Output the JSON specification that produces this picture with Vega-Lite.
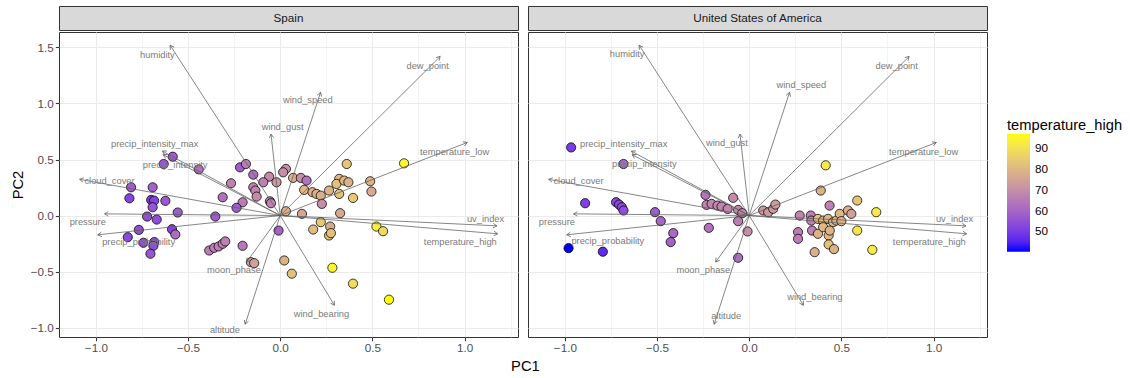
{
  "$schema": "https://vega.github.io/schema/vega-lite/v6.json",
  "padding": {"left": 9, "top": 5, "right": 5, "bottom": 5},
  "autosize": {"type": "pad"},
  "background": "white",
  "title": {"text": "PC1", "orient": "bottom", "anchor": "middle", "frame": "bounds", "fontSize": 14.7, "fontWeight": "normal", "color": "#000000", "font": "Liberation Sans", "offset": 4, "dx": -41},
  "config": {
    "font": "Liberation Sans",
    "view": {"stroke": "#333333", "strokeWidth": 1},
    "axis": {"labelFont": "Liberation Sans", "titleFont": "Liberation Sans"},
    "legend": {"labelFont": "Liberation Sans", "titleFont": "Liberation Sans"},
    "text": {"font": "Liberation Sans"}
  },
  "datasets": {
    "points": [
      {"country":"Spain","PC1":-0.583,"PC2":0.525,"temperature_high":58},
      {"country":"Spain","PC1":-0.632,"PC2":0.460,"temperature_high":57},
      {"country":"Spain","PC1":-0.442,"PC2":0.412,"temperature_high":63},
      {"country":"Spain","PC1":-0.809,"PC2":0.252,"temperature_high":58},
      {"country":"Spain","PC1":-0.692,"PC2":0.252,"temperature_high":59},
      {"country":"Spain","PC1":-0.818,"PC2":0.154,"temperature_high":52},
      {"country":"Spain","PC1":-0.700,"PC2":0.139,"temperature_high":51},
      {"country":"Spain","PC1":-0.684,"PC2":0.133,"temperature_high":52},
      {"country":"Spain","PC1":-0.692,"PC2":0.074,"temperature_high":56},
      {"country":"Spain","PC1":-0.623,"PC2":0.131,"temperature_high":57},
      {"country":"Spain","PC1":-0.556,"PC2":0.027,"temperature_high":58},
      {"country":"Spain","PC1":-0.722,"PC2":-0.009,"temperature_high":55},
      {"country":"Spain","PC1":-0.670,"PC2":-0.036,"temperature_high":54},
      {"country":"Spain","PC1":-0.767,"PC2":-0.128,"temperature_high":55},
      {"country":"Spain","PC1":-0.827,"PC2":-0.193,"temperature_high":53},
      {"country":"Spain","PC1":-0.742,"PC2":-0.243,"temperature_high":54},
      {"country":"Spain","PC1":-0.683,"PC2":-0.237,"temperature_high":53},
      {"country":"Spain","PC1":-0.688,"PC2":-0.270,"temperature_high":54},
      {"country":"Spain","PC1":-0.704,"PC2":-0.341,"temperature_high":56},
      {"country":"Spain","PC1":-0.587,"PC2":-0.122,"temperature_high":52},
      {"country":"Spain","PC1":-0.569,"PC2":-0.169,"temperature_high":62},
      {"country":"Spain","PC1":-0.352,"PC2":-0.009,"temperature_high":58},
      {"country":"Spain","PC1":-0.218,"PC2":0.430,"temperature_high":58},
      {"country":"Spain","PC1":-0.186,"PC2":0.460,"temperature_high":66},
      {"country":"Spain","PC1":-0.146,"PC2":0.365,"temperature_high":62},
      {"country":"Spain","PC1":-0.060,"PC2":0.347,"temperature_high":69},
      {"country":"Spain","PC1":-0.092,"PC2":0.297,"temperature_high":67},
      {"country":"Spain","PC1":-0.020,"PC2":0.297,"temperature_high":72},
      {"country":"Spain","PC1":0.031,"PC2":0.416,"temperature_high":70},
      {"country":"Spain","PC1":0.016,"PC2":0.386,"temperature_high":70},
      {"country":"Spain","PC1":-0.267,"PC2":0.288,"temperature_high":67},
      {"country":"Spain","PC1":-0.146,"PC2":0.252,"temperature_high":68},
      {"country":"Spain","PC1":-0.135,"PC2":0.223,"temperature_high":68},
      {"country":"Spain","PC1":-0.128,"PC2":0.169,"temperature_high":69},
      {"country":"Spain","PC1":-0.056,"PC2":0.127,"temperature_high":68},
      {"country":"Spain","PC1":-0.050,"PC2":0.110,"temperature_high":67},
      {"country":"Spain","PC1":-0.312,"PC2":0.163,"temperature_high":63},
      {"country":"Spain","PC1":-0.204,"PC2":0.118,"temperature_high":66},
      {"country":"Spain","PC1":-0.237,"PC2":0.069,"temperature_high":58},
      {"country":"Spain","PC1":0.031,"PC2":0.038,"temperature_high":79},
      {"country":"Spain","PC1":0.118,"PC2":0.015,"temperature_high":76},
      {"country":"Spain","PC1":-0.009,"PC2":-0.134,"temperature_high":59},
      {"country":"Spain","PC1":-0.385,"PC2":-0.312,"temperature_high":66},
      {"country":"Spain","PC1":-0.358,"PC2":-0.288,"temperature_high":66},
      {"country":"Spain","PC1":-0.334,"PC2":-0.276,"temperature_high":66},
      {"country":"Spain","PC1":-0.312,"PC2":-0.252,"temperature_high":67},
      {"country":"Spain","PC1":-0.298,"PC2":-0.231,"temperature_high":67},
      {"country":"Spain","PC1":-0.204,"PC2":-0.270,"temperature_high":65},
      {"country":"Spain","PC1":-0.159,"PC2":-0.416,"temperature_high":74},
      {"country":"Spain","PC1":-0.141,"PC2":-0.425,"temperature_high":74},
      {"country":"Spain","PC1":0.022,"PC2":-0.401,"temperature_high":79},
      {"country":"Spain","PC1":0.063,"PC2":-0.519,"temperature_high":82},
      {"country":"Spain","PC1":0.070,"PC2":0.336,"temperature_high":78},
      {"country":"Spain","PC1":0.112,"PC2":0.336,"temperature_high":70},
      {"country":"Spain","PC1":0.143,"PC2":0.312,"temperature_high":63},
      {"country":"Spain","PC1":0.130,"PC2":0.229,"temperature_high":80},
      {"country":"Spain","PC1":0.175,"PC2":0.208,"temperature_high":78},
      {"country":"Spain","PC1":0.197,"PC2":0.193,"temperature_high":78},
      {"country":"Spain","PC1":0.220,"PC2":0.178,"temperature_high":78},
      {"country":"Spain","PC1":0.226,"PC2":0.104,"temperature_high":70},
      {"country":"Spain","PC1":0.265,"PC2":0.223,"temperature_high":79},
      {"country":"Spain","PC1":0.320,"PC2":0.327,"temperature_high":80},
      {"country":"Spain","PC1":0.305,"PC2":0.282,"temperature_high":82},
      {"country":"Spain","PC1":0.347,"PC2":0.312,"temperature_high":80},
      {"country":"Spain","PC1":0.370,"PC2":0.297,"temperature_high":79},
      {"country":"Spain","PC1":0.320,"PC2":0.193,"temperature_high":82},
      {"country":"Spain","PC1":0.361,"PC2":0.460,"temperature_high":83},
      {"country":"Spain","PC1":0.395,"PC2":0.157,"temperature_high":84},
      {"country":"Spain","PC1":0.488,"PC2":0.306,"temperature_high":79},
      {"country":"Spain","PC1":0.495,"PC2":0.214,"temperature_high":77},
      {"country":"Spain","PC1":0.672,"PC2":0.466,"temperature_high":95},
      {"country":"Spain","PC1":0.325,"PC2":0.021,"temperature_high":76},
      {"country":"Spain","PC1":0.220,"PC2":-0.059,"temperature_high":84},
      {"country":"Spain","PC1":0.179,"PC2":-0.125,"temperature_high":81},
      {"country":"Spain","PC1":0.271,"PC2":-0.098,"temperature_high":77},
      {"country":"Spain","PC1":0.265,"PC2":-0.178,"temperature_high":83},
      {"country":"Spain","PC1":0.275,"PC2":-0.157,"temperature_high":82},
      {"country":"Spain","PC1":0.522,"PC2":-0.098,"temperature_high":93},
      {"country":"Spain","PC1":0.558,"PC2":-0.140,"temperature_high":88},
      {"country":"Spain","PC1":0.283,"PC2":-0.466,"temperature_high":95},
      {"country":"Spain","PC1":0.395,"PC2":-0.608,"temperature_high":89},
      {"country":"Spain","PC1":0.590,"PC2":-0.751,"temperature_high":97.1},
      {"country":"United States of America","PC1":-0.966,"PC2":0.608,"temperature_high":50},
      {"country":"United States of America","PC1":-0.682,"PC2":0.460,"temperature_high":60},
      {"country":"United States of America","PC1":-0.890,"PC2":0.110,"temperature_high":51},
      {"country":"United States of America","PC1":-0.722,"PC2":0.119,"temperature_high":53},
      {"country":"United States of America","PC1":-0.706,"PC2":0.098,"temperature_high":53},
      {"country":"United States of America","PC1":-0.691,"PC2":0.074,"temperature_high":54},
      {"country":"United States of America","PC1":-0.682,"PC2":0.045,"temperature_high":54},
      {"country":"United States of America","PC1":-0.511,"PC2":0.030,"temperature_high":58},
      {"country":"United States of America","PC1":-0.480,"PC2":-0.050,"temperature_high":60},
      {"country":"United States of America","PC1":-0.412,"PC2":-0.157,"temperature_high":61},
      {"country":"United States of America","PC1":-0.426,"PC2":-0.237,"temperature_high":59},
      {"country":"United States of America","PC1":-0.980,"PC2":-0.291,"temperature_high":40.1},
      {"country":"United States of America","PC1":-0.794,"PC2":-0.323,"temperature_high":46},
      {"country":"United States of America","PC1":-0.237,"PC2":0.184,"temperature_high":64},
      {"country":"United States of America","PC1":-0.231,"PC2":0.095,"temperature_high":68},
      {"country":"United States of America","PC1":-0.204,"PC2":0.104,"temperature_high":68},
      {"country":"United States of America","PC1":-0.172,"PC2":0.089,"temperature_high":68},
      {"country":"United States of America","PC1":-0.150,"PC2":0.080,"temperature_high":68},
      {"country":"United States of America","PC1":-0.087,"PC2":0.158,"temperature_high":69},
      {"country":"United States of America","PC1":-0.117,"PC2":0.059,"temperature_high":68},
      {"country":"United States of America","PC1":-0.060,"PC2":0.050,"temperature_high":69},
      {"country":"United States of America","PC1":-0.038,"PC2":0.021,"temperature_high":69},
      {"country":"United States of America","PC1":-0.060,"PC2":-0.050,"temperature_high":66},
      {"country":"United States of America","PC1":-0.219,"PC2":-0.110,"temperature_high":63},
      {"country":"United States of America","PC1":-0.009,"PC2":-0.142,"temperature_high":70},
      {"country":"United States of America","PC1":-0.060,"PC2":-0.377,"temperature_high":62},
      {"country":"United States of America","PC1":0.076,"PC2":0.045,"temperature_high":72},
      {"country":"United States of America","PC1":0.103,"PC2":0.029,"temperature_high":72},
      {"country":"United States of America","PC1":0.130,"PC2":0.060,"temperature_high":72},
      {"country":"United States of America","PC1":0.142,"PC2":0.098,"temperature_high":73},
      {"country":"United States of America","PC1":0.415,"PC2":0.448,"temperature_high":92},
      {"country":"United States of America","PC1":0.388,"PC2":0.223,"temperature_high":79},
      {"country":"United States of America","PC1":0.436,"PC2":0.089,"temperature_high":67},
      {"country":"United States of America","PC1":0.274,"PC2":0.000,"temperature_high":68},
      {"country":"United States of America","PC1":0.334,"PC2":0.000,"temperature_high":67},
      {"country":"United States of America","PC1":0.337,"PC2":-0.045,"temperature_high":67},
      {"country":"United States of America","PC1":0.373,"PC2":-0.030,"temperature_high":83},
      {"country":"United States of America","PC1":0.401,"PC2":-0.045,"temperature_high":80},
      {"country":"United States of America","PC1":0.428,"PC2":-0.030,"temperature_high":80},
      {"country":"United States of America","PC1":0.455,"PC2":-0.059,"temperature_high":80},
      {"country":"United States of America","PC1":0.473,"PC2":-0.045,"temperature_high":79},
      {"country":"United States of America","PC1":0.491,"PC2":0.015,"temperature_high":80},
      {"country":"United States of America","PC1":0.536,"PC2":0.045,"temperature_high":78},
      {"country":"United States of America","PC1":0.554,"PC2":0.015,"temperature_high":74},
      {"country":"United States of America","PC1":0.586,"PC2":0.134,"temperature_high":83},
      {"country":"United States of America","PC1":0.689,"PC2":0.030,"temperature_high":92},
      {"country":"United States of America","PC1":0.265,"PC2":-0.148,"temperature_high":66},
      {"country":"United States of America","PC1":0.265,"PC2":-0.208,"temperature_high":66},
      {"country":"United States of America","PC1":0.341,"PC2":-0.134,"temperature_high":67},
      {"country":"United States of America","PC1":0.373,"PC2":-0.163,"temperature_high":79},
      {"country":"United States of America","PC1":0.401,"PC2":-0.104,"temperature_high":80},
      {"country":"United States of America","PC1":0.431,"PC2":-0.178,"temperature_high":80},
      {"country":"United States of America","PC1":0.437,"PC2":-0.134,"temperature_high":79},
      {"country":"United States of America","PC1":0.586,"PC2":-0.134,"temperature_high":91},
      {"country":"United States of America","PC1":0.431,"PC2":-0.258,"temperature_high":82},
      {"country":"United States of America","PC1":0.460,"PC2":-0.300,"temperature_high":79},
      {"country":"United States of America","PC1":0.355,"PC2":-0.327,"temperature_high":78},
      {"country":"United States of America","PC1":0.668,"PC2":-0.306,"temperature_high":92},
      {"country":"United States of America","PC1":0.500,"PC2":-0.050,"temperature_high":79}
    ],
    "loadings": [
      {"country":"Spain","variable":"humidity","x":-0.597,"y":1.52,"x0":0,"y0":0,"lx":-0.666,"ly":1.436},
      {"country":"Spain","variable":"dew_point","x":0.868,"y":1.42,"x0":0,"y0":0,"lx":0.800,"ly":1.338},
      {"country":"Spain","variable":"wind_speed","x":0.219,"y":1.10,"x0":0,"y0":0,"lx":0.150,"ly":1.027},
      {"country":"Spain","variable":"wind_gust","x":-0.050,"y":0.727,"x0":0,"y0":0,"lx":0.013,"ly":0.793},
      {"country":"Spain","variable":"precip_intensity_max","x":-0.639,"y":0.575,"x0":0,"y0":0,"lx":-0.681,"ly":0.638},
      {"country":"Spain","variable":"precip_intensity","x":-0.635,"y":0.543,"x0":0,"y0":0,"lx":-0.570,"ly":0.454},
      {"country":"Spain","variable":"cloud_cover","x":-1.088,"y":0.323,"x0":0,"y0":0,"lx":-0.926,"ly":0.312},
      {"country":"Spain","variable":"pressure","x":-0.953,"y":0.015,"x0":0,"y0":0,"lx":-1.044,"ly":-0.062},
      {"country":"Spain","variable":"precip_probability","x":-0.990,"y":-0.172,"x0":0,"y0":0,"lx":-0.768,"ly":-0.232},
      {"country":"Spain","variable":"moon_phase","x":-0.182,"y":-0.415,"x0":0,"y0":0,"lx":-0.251,"ly":-0.487},
      {"country":"Spain","variable":"altitude","x":-0.190,"y":-0.970,"x0":0,"y0":0,"lx":-0.300,"ly":-1.024},
      {"country":"Spain","variable":"wind_bearing","x":0.294,"y":-0.801,"x0":0,"y0":0,"lx":0.224,"ly":-0.879},
      {"country":"Spain","variable":"temperature_high","x":1.180,"y":-0.163,"x0":0,"y0":0,"lx":0.977,"ly":-0.240},
      {"country":"Spain","variable":"uv_index","x":1.176,"y":-0.092,"x0":0,"y0":0,"lx":1.114,"ly":-0.027},
      {"country":"Spain","variable":"temperature_low","x":1.015,"y":0.652,"x0":0,"y0":0,"lx":0.946,"ly":0.570},
      {"country":"United States of America","variable":"humidity","x":-0.597,"y":1.52,"x0":0,"y0":0,"lx":-0.662,"ly":1.445},
      {"country":"United States of America","variable":"dew_point","x":0.868,"y":1.42,"x0":0,"y0":0,"lx":0.800,"ly":1.338},
      {"country":"United States of America","variable":"wind_speed","x":0.219,"y":1.10,"x0":0,"y0":0,"lx":0.283,"ly":1.166},
      {"country":"United States of America","variable":"wind_gust","x":-0.050,"y":0.727,"x0":0,"y0":0,"lx":-0.121,"ly":0.650},
      {"country":"United States of America","variable":"precip_intensity_max","x":-0.639,"y":0.575,"x0":0,"y0":0,"lx":-0.681,"ly":0.638},
      {"country":"United States of America","variable":"precip_intensity","x":-0.635,"y":0.543,"x0":0,"y0":0,"lx":-0.569,"ly":0.463},
      {"country":"United States of America","variable":"cloud_cover","x":-1.088,"y":0.323,"x0":0,"y0":0,"lx":-0.926,"ly":0.312},
      {"country":"United States of America","variable":"pressure","x":-0.953,"y":0.015,"x0":0,"y0":0,"lx":-1.043,"ly":-0.062},
      {"country":"United States of America","variable":"precip_probability","x":-0.990,"y":-0.172,"x0":0,"y0":0,"lx":-0.767,"ly":-0.231},
      {"country":"United States of America","variable":"moon_phase","x":-0.182,"y":-0.415,"x0":0,"y0":0,"lx":-0.249,"ly":-0.487},
      {"country":"United States of America","variable":"altitude","x":-0.190,"y":-0.970,"x0":0,"y0":0,"lx":-0.125,"ly":-0.899},
      {"country":"United States of America","variable":"wind_bearing","x":0.294,"y":-0.801,"x0":0,"y0":0,"lx":0.356,"ly":-0.730},
      {"country":"United States of America","variable":"temperature_high","x":1.180,"y":-0.163,"x0":0,"y0":0,"lx":0.977,"ly":-0.240},
      {"country":"United States of America","variable":"uv_index","x":1.176,"y":-0.092,"x0":0,"y0":0,"lx":1.114,"ly":-0.027},
      {"country":"United States of America","variable":"temperature_low","x":1.015,"y":0.652,"x0":0,"y0":0,"lx":0.946,"ly":0.570}
    ]
  },
  "spacing": 8,
  "hconcat": [
    {
      "spacing": 0,
      "vconcat": [
        {
          "width": 459, "height": 24,
          "data": {"values": [{"country": "Spain"}]},
          "view": {"fill": "#D9D9D9", "stroke": "#333333", "strokeWidth": 1},
          "mark": {"type": "text", "fontSize": 11.7, "color": "#1A1A1A"},
          "encoding": {"text": {"field": "country", "type": "nominal"}}
        },
        {
          "width": 459, "height": 305,
          "layer": [
            {
              "data": {"name": "points"},
              "transform": [{"filter": "datum.country === 'Spain'"}],
              "mark": {"type": "point", "filled": true, "stroke": "black", "strokeWidth": 0.75, "size": 85, "opacity": 1},
              "encoding": {
                "x": {"field": "PC1", "type": "quantitative", "scale": {"domain": [-1.2, 1.29], "nice": false, "zero": false},
                  "axis": {"values": [-1, -0.75, -0.5, -0.25, 0, 0.25, 0.5, 0.75, 1, 1.25],
                    "labelExpr": "datum.value % 0.5 === 0 ? replace(format(datum.value, '.1f'), '-', '−') : ''",
                    "gridColor": "#EBEBEB",
                    "gridWidth": {"condition": {"test": "datum.value % 0.5 === 0", "value": 1.07}, "value": 0.53},
                    "tickColor": {"condition": {"test": "datum.value % 0.5 === 0", "value": "#333333"}, "value": "transparent"},
                    "tickSize": 3.7, "tickWidth": 1.07, "domain": false, "labelFlush": false, "labelOverlap": false,
                    "labelColor": "#4D4D4D", "labelFontSize": 11.7, "labelPadding": 2, "title": null}},
                "y": {"field": "PC2", "type": "quantitative", "scale": {"domain": [-1.084, 1.638], "nice": false, "zero": false},
                  "axis": {"values": [-1, -0.75, -0.5, -0.25, 0, 0.25, 0.5, 0.75, 1, 1.25, 1.5],
                    "labelExpr": "datum.value % 0.5 === 0 ? replace(format(datum.value, '.1f'), '-', '−') : ''",
                    "gridColor": "#EBEBEB",
                    "gridWidth": {"condition": {"test": "datum.value % 0.5 === 0", "value": 1.07}, "value": 0.53},
                    "tickColor": {"condition": {"test": "datum.value % 0.5 === 0", "value": "#333333"}, "value": "transparent"},
                    "tickSize": 3.7, "tickWidth": 1.07, "domain": false, "labelFlush": false, "labelOverlap": false,
                    "labelColor": "#4D4D4D", "labelFontSize": 11.7, "labelPadding": 2,
                    "title": "PC2", "titleFontSize": 14.7, "titleFontWeight": "normal", "titleColor": "#000000", "titlePadding": 5}},
                "color": {"field": "temperature_high", "type": "quantitative",
                  "scale": {"domain": [40.1, 97.1], "range": ["#0000FF", "#FFFF00"], "interpolate": "lab"},
                  "legend": {"orient": "none", "legendX": 948, "legendY": 112, "direction": "vertical",
                    "values": [50, 60, 70, 80, 90], "gradientLength": 118, "gradientThickness": 23, "gradientStrokeWidth": 0,
                    "title": "temperature_high", "titleFontSize": 14.7, "titleFontWeight": "normal", "titleColor": "#000000", "titlePadding": 1,
                    "labelFontSize": 11.7, "labelColor": "#000000", "labelOffset": 5}}
              }
            },
            {
              "data": {"name": "loadings"},
              "transform": [{"filter": "datum.country === 'Spain'"}],
              "mark": {"type": "rule", "color": "#5E5E5E", "strokeWidth": 0.75},
              "encoding": {
                "x": {"field": "x0", "type": "quantitative", "scale": {"domain": [-1.2, 1.29], "nice": false, "zero": false}},
                "y": {"field": "y0", "type": "quantitative", "scale": {"domain": [-1.084, 1.638], "nice": false, "zero": false}},
                "x2": {"field": "x"},
                "y2": {"field": "y"}
              }
            },
            {
              "data": {"name": "loadings"},
              "transform": [{"filter": "datum.country === 'Spain'"}],
              "mark": {"type": "point", "filled": false, "shape": "M-1,-0.577L0,0L-1,0.577", "size": 60, "color": "#5E5E5E", "strokeWidth": 0.75, "opacity": 1,
                "angle": {"expr": "atan2(-datum.y * 112.05, datum.x * 184.34) * 180 / PI"}},
              "encoding": {
                "x": {"field": "x", "type": "quantitative", "scale": {"domain": [-1.2, 1.29], "nice": false, "zero": false}},
                "y": {"field": "y", "type": "quantitative", "scale": {"domain": [-1.084, 1.638], "nice": false, "zero": false}}
              }
            },
            {
              "data": {"name": "loadings"},
              "transform": [{"filter": "datum.country === 'Spain'"}],
              "mark": {"type": "text", "fontSize": 9.3, "color": "#7A7A7A", "align": "center", "baseline": "middle"},
              "encoding": {
                "x": {"field": "lx", "type": "quantitative", "scale": {"domain": [-1.2, 1.29], "nice": false, "zero": false}},
                "y": {"field": "ly", "type": "quantitative", "scale": {"domain": [-1.084, 1.638], "nice": false, "zero": false}},
                "text": {"field": "variable", "type": "nominal"}
              }
            }
          ]
        }
      ]
    },
    {
      "spacing": 0,
      "vconcat": [
        {
          "width": 459, "height": 24,
          "data": {"values": [{"country": "United States of America"}]},
          "view": {"fill": "#D9D9D9", "stroke": "#333333", "strokeWidth": 1},
          "mark": {"type": "text", "fontSize": 11.7, "color": "#1A1A1A"},
          "encoding": {"text": {"field": "country", "type": "nominal"}}
        },
        {
          "width": 459, "height": 305,
          "layer": [
            {
              "data": {"name": "points"},
              "transform": [{"filter": "datum.country === 'United States of America'"}],
              "mark": {"type": "point", "filled": true, "stroke": "black", "strokeWidth": 0.75, "size": 85, "opacity": 1},
              "encoding": {
                "x": {"field": "PC1", "type": "quantitative", "scale": {"domain": [-1.2, 1.29], "nice": false, "zero": false},
                  "axis": {"values": [-1, -0.75, -0.5, -0.25, 0, 0.25, 0.5, 0.75, 1, 1.25],
                    "labelExpr": "datum.value % 0.5 === 0 ? replace(format(datum.value, '.1f'), '-', '−') : ''",
                    "gridColor": "#EBEBEB",
                    "gridWidth": {"condition": {"test": "datum.value % 0.5 === 0", "value": 1.07}, "value": 0.53},
                    "tickColor": {"condition": {"test": "datum.value % 0.5 === 0", "value": "#333333"}, "value": "transparent"},
                    "tickSize": 3.7, "tickWidth": 1.07, "domain": false, "labelFlush": false, "labelOverlap": false,
                    "labelColor": "#4D4D4D", "labelFontSize": 11.7, "labelPadding": 2, "title": null}},
                "y": {"field": "PC2", "type": "quantitative", "scale": {"domain": [-1.084, 1.638], "nice": false, "zero": false},
                  "axis": {"values": [-1, -0.75, -0.5, -0.25, 0, 0.25, 0.5, 0.75, 1, 1.25, 1.5],
                    "labels": false, "ticks": false, "domain": false, "title": null,
                    "gridColor": "#EBEBEB",
                    "gridWidth": {"condition": {"test": "datum.value % 0.5 === 0", "value": 1.07}, "value": 0.53}}},
                "color": {"field": "temperature_high", "type": "quantitative",
                  "scale": {"domain": [40.1, 97.1], "range": ["#0000FF", "#FFFF00"], "interpolate": "lab"},
                  "legend": {"orient": "none", "legendX": 948, "legendY": 112, "direction": "vertical",
                    "values": [50, 60, 70, 80, 90], "gradientLength": 118, "gradientThickness": 23, "gradientStrokeWidth": 0,
                    "title": "temperature_high", "titleFontSize": 14.7, "titleFontWeight": "normal", "titleColor": "#000000", "titlePadding": 1,
                    "labelFontSize": 11.7, "labelColor": "#000000", "labelOffset": 5}}
              }
            },
            {
              "data": {"name": "loadings"},
              "transform": [{"filter": "datum.country === 'United States of America'"}],
              "mark": {"type": "rule", "color": "#5E5E5E", "strokeWidth": 0.75},
              "encoding": {
                "x": {"field": "x0", "type": "quantitative", "scale": {"domain": [-1.2, 1.29], "nice": false, "zero": false}},
                "y": {"field": "y0", "type": "quantitative", "scale": {"domain": [-1.084, 1.638], "nice": false, "zero": false}},
                "x2": {"field": "x"},
                "y2": {"field": "y"}
              }
            },
            {
              "data": {"name": "loadings"},
              "transform": [{"filter": "datum.country === 'United States of America'"}],
              "mark": {"type": "point", "filled": false, "shape": "M-1,-0.577L0,0L-1,0.577", "size": 60, "color": "#5E5E5E", "strokeWidth": 0.75, "opacity": 1,
                "angle": {"expr": "atan2(-datum.y * 112.05, datum.x * 184.34) * 180 / PI"}},
              "encoding": {
                "x": {"field": "x", "type": "quantitative", "scale": {"domain": [-1.2, 1.29], "nice": false, "zero": false}},
                "y": {"field": "y", "type": "quantitative", "scale": {"domain": [-1.084, 1.638], "nice": false, "zero": false}}
              }
            },
            {
              "data": {"name": "loadings"},
              "transform": [{"filter": "datum.country === 'United States of America'"}],
              "mark": {"type": "text", "fontSize": 9.3, "color": "#7A7A7A", "align": "center", "baseline": "middle"},
              "encoding": {
                "x": {"field": "lx", "type": "quantitative", "scale": {"domain": [-1.2, 1.29], "nice": false, "zero": false}},
                "y": {"field": "ly", "type": "quantitative", "scale": {"domain": [-1.084, 1.638], "nice": false, "zero": false}},
                "text": {"field": "variable", "type": "nominal"}
              }
            }
          ]
        }
      ]
    }
  ]
}
